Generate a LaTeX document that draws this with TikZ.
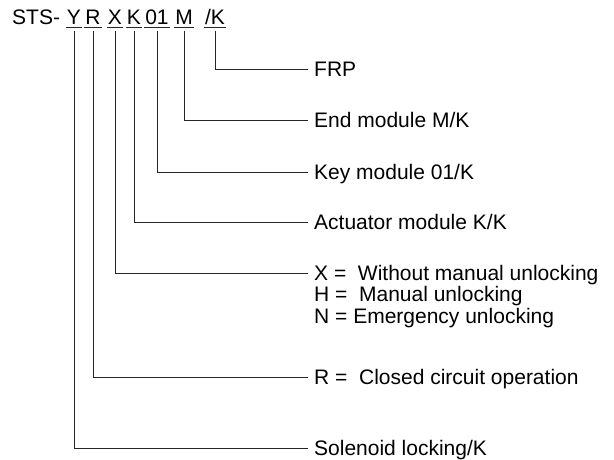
\documentclass[tikz,border=0pt]{standalone}
\usepackage{fontspec}
\setmainfont{Liberation Sans}

\begin{document}
\begin{tikzpicture}[
  x=1pt, y=-1pt,
  every node/.style={font=\fontsize{21}{25}\selectfont, inner ysep=0pt, text depth=0pt},
  code/.style={anchor=base, inner xsep=1pt},
  desc/.style={anchor=west, inner xsep=6pt, text height=15pt},
  lead/.style={draw, line width=1pt, black!85},
  uline/.style={draw, line width=1pt, black!85}
]
\useasboundingbox (0,0) rectangle (614,459);

% type code
\node[anchor=base west, inner xsep=0pt] (sts) at (12,24) {STS-};
\node[code] (cy) at (74,24) {Y};
\node[code] (cr) at (93,24) {R};
\node[code] (cx) at (115,24) {X};
\node[code] (ck) at (134,24) {K};
\node[code] (cnum) at (157,24) {01};
\node[code] (cm) at (184,24) {M};
\node[code] (cfrp) at (215,24) {/K};
\foreach \n in {cy,cr,cx,ck,cnum,cm,cfrp}
  \draw[uline] ([yshift=-3.5pt]\n.south west) -- ([yshift=-3.5pt]\n.south east);

% meanings
\node[desc] (dfrp) at (308,69) {FRP};
\node[desc] (dm) at (308,120) {End module M/K};
\node[desc] (dnum) at (308,172) {Key module 01/K};
\node[desc] (dk) at (308,222) {Actuator module K/K};
\node[desc] (dx) at (308,273) {X = \ Without manual unlocking};
\node[desc, anchor=north west] (dh) at ([yshift=-6pt]dx.south west) {H = \ Manual unlocking};
\node[desc, anchor=north west] (dn) at ([yshift=-6pt]dh.south west) {N = Emergency unlocking};
\node[desc] (dr) at (308,377) {R = \ Closed circuit operation};
\node[desc] (dy) at (308,448) {Solenoid locking/K};

% leaders
\draw[lead] ([yshift=-7pt]cfrp.south) |- (dfrp.west);
\draw[lead] ([yshift=-7pt]cm.south) |- (dm.west);
\draw[lead] ([yshift=-7pt]cnum.south) |- (dnum.west);
\draw[lead] ([yshift=-7pt]ck.south) |- (dk.west);
\draw[lead] ([yshift=-7pt]cx.south) |- (dx.west);
\draw[lead] ([yshift=-7pt]cr.south) |- (dr.west);
\draw[lead] ([yshift=-7pt]cy.south) |- (dy.west);
\end{tikzpicture}
\end{document}
